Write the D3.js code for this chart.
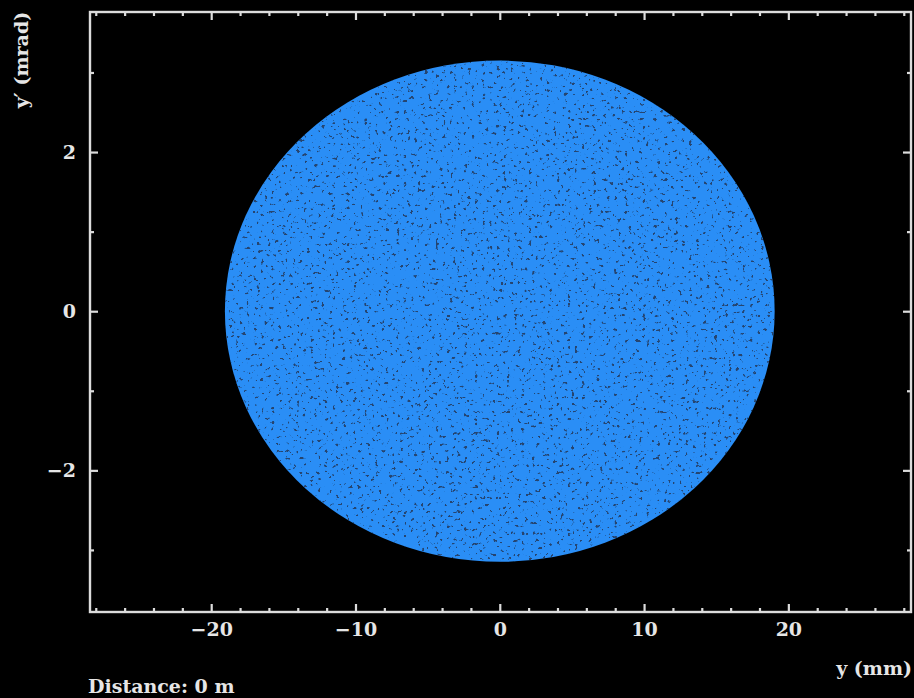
<!DOCTYPE html>
<html>
<head>
<meta charset="utf-8">
<script src="https://cdn.jsdelivr.net/npm/d3@7"></script>
<style>
  html, body { margin: 0; padding: 0; background: #000; }
  svg { display: block; }
  text { font-family: "DejaVu Serif", "Liberation Serif", serif; fill: #e6e6e6; font-weight: bold; }
</style>
</head>
<body>
<svg id="chart" width="914" height="698"></svg>
<script>
// Beam phase-space envelope in the vertical plane at the start of the line
const beamCenter = [0, 0];          // [y (mm), y' (mrad)]
const beamSemiAxes = [19.05, 3.15]; // [y (mm), y' (mrad)]

// Axis extents and ticks
const xDomain = [-28.4, 28.5];
const yDomain = [-3.78, 3.76];
const xMajorTicks = [-20, -10, 0, 10, 20];
const xMinorTicks = [-28, -26, -24, -22, -18, -16, -14, -12, -8, -6, -4, -2, 2, 4, 6, 8, 12, 14, 16, 18, 22, 24, 26, 28];
const yMajorTicks = [-2, 0, 2];
const yMinorTicks = [-3, -1, 1, 3];

const xTitle = "y (mm)";
const yTitle = "y\u2032 (mrad)";
const footer = "Distance: 0 m";

const W = 914, H = 698;
const plot = { left: 90, right: 911, top: 12, bottom: 612 };
const fontSize = 19;

const svg = d3.select("#chart");
svg.append("rect").attr("width", W).attr("height", H).attr("fill", "#000");

const x = d3.scaleLinear().domain(xDomain).range([plot.left, plot.right]);
const y = d3.scaleLinear().domain(yDomain).range([plot.bottom, plot.top]);

// Speckle texture for the particle cloud
const defs = svg.append("defs");
const f = defs.append("filter").attr("id", "speckle")
  .attr("filterUnits", "userSpaceOnUse")
  .attr("x", 0).attr("y", 0).attr("width", W).attr("height", H);
f.append("feTurbulence").attr("type", "fractalNoise")
  .attr("baseFrequency", 0.28).attr("numOctaves", 2).attr("seed", 11).attr("result", "noise");
f.append("feColorMatrix").attr("in", "noise").attr("type", "matrix")
  .attr("values", "0 0 0 0 0.02  0 0 0 0 0.06  0 0 0 0 0.16  1 0 0 0 0").attr("result", "a");
const ct = f.append("feComponentTransfer").attr("in", "a").attr("result", "dots");
ct.append("feFuncA").attr("type", "linear").attr("slope", 14).attr("intercept", -9.1);
f.append("feComposite").attr("in", "dots").attr("in2", "SourceGraphic").attr("operator", "in").attr("result", "clipped");
const m = f.append("feMerge");
m.append("feMergeNode").attr("in", "SourceGraphic");
m.append("feMergeNode").attr("in", "clipped");

svg.append("ellipse")
  .attr("cx", x(beamCenter[0]))
  .attr("cy", y(beamCenter[1]))
  .attr("rx", x(beamCenter[0] + beamSemiAxes[0]) - x(beamCenter[0]))
  .attr("ry", y(beamCenter[1]) - y(beamCenter[1] + beamSemiAxes[1]))
  .attr("fill", "#2b8ef6")
  .attr("filter", "url(#speckle)");

// Frame with inward ticks on all four sides
const axisColor = "#dcdcdc";
const majorLen = 8, minorLen = 4;

function tickAxis(axisFn, scale, major, minor, transform, withLabels) {
  const gMinor = svg.append("g").attr("transform", transform)
    .call(axisFn(scale).tickValues(minor).tickSize(-minorLen).tickFormat(""));
  const gMajor = svg.append("g").attr("transform", transform)
    .call(axisFn(scale).tickValues(major).tickSize(-majorLen)
      .tickFormat(withLabels ? (d => d < 0 ? "\u2212" + Math.abs(d) : String(d)) : ""));
  [gMinor, gMajor].forEach(g => {
    g.select(".domain").remove();
    g.selectAll(".tick line").attr("stroke", axisColor).attr("stroke-width", 2.2);
  });
  return gMajor;
}

const gb = tickAxis(d3.axisBottom, x, xMajorTicks, xMinorTicks, `translate(0,${plot.bottom})`, true);
gb.selectAll(".tick text").attr("y", 11).attr("dy", "0.71em")
  .attr("font-size", fontSize).attr("fill", "#e6e6e6")
  .attr("font-family", "DejaVu Serif, serif").attr("font-weight", "bold");
tickAxis(d3.axisTop, x, xMajorTicks, xMinorTicks, `translate(0,${plot.top})`, false);
const gl = tickAxis(d3.axisLeft, y, yMajorTicks, yMinorTicks, `translate(${plot.left},0)`, true);
gl.selectAll(".tick text").attr("x", -14)
  .attr("font-size", fontSize).attr("fill", "#e6e6e6")
  .attr("font-family", "DejaVu Serif, serif").attr("font-weight", "bold");
tickAxis(d3.axisRight, y, yMajorTicks, yMinorTicks, `translate(${plot.right},0)`, false);

svg.append("rect")
  .attr("x", plot.left).attr("y", plot.top)
  .attr("width", plot.right - plot.left).attr("height", plot.bottom - plot.top)
  .attr("fill", "none").attr("stroke", axisColor).attr("stroke-width", 2.4);

// Titles
svg.append("text")
  .attr("x", 912).attr("y", 668).attr("dy", "0.35em")
  .attr("text-anchor", "end").attr("font-size", fontSize)
  .text(xTitle);

svg.append("text")
  .attr("transform", "translate(21,60) rotate(-90)")
  .attr("dy", "0.35em").attr("text-anchor", "middle").attr("font-size", fontSize)
  .text(yTitle);

svg.append("text")
  .attr("x", 88).attr("y", 686).attr("dy", "0.35em")
  .attr("font-size", fontSize)
  .text(footer);
</script>
</body>
</html>
